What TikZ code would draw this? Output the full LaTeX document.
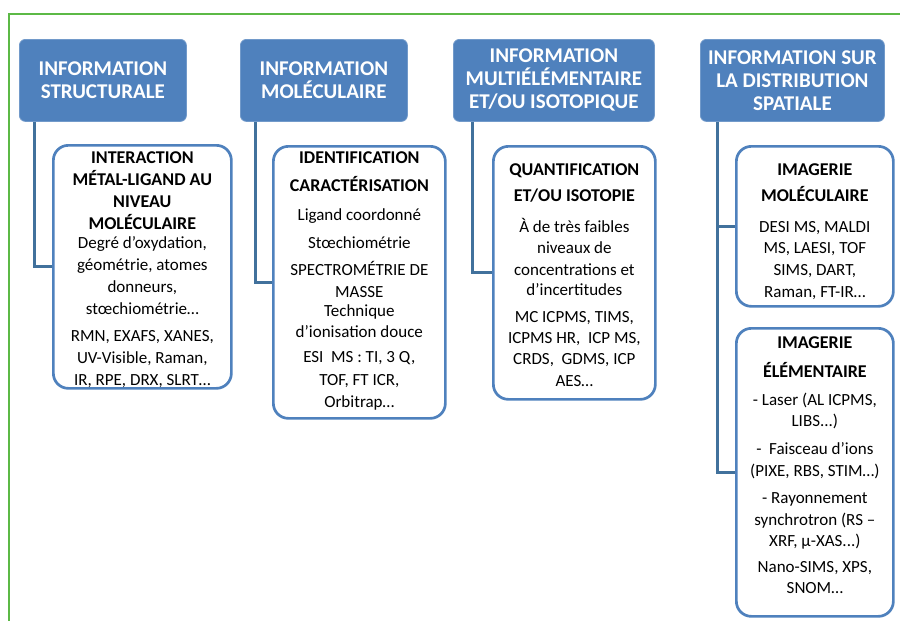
\documentclass[tikz,border=0pt]{standalone}
\usepackage{fontspec}
\setmainfont{Carlito}
\definecolor{hdrblue}{HTML}{4F81BD}
\definecolor{connblue}{HTML}{41719C}
\definecolor{framegreen}{HTML}{5CB946}
\tikzset{
  hdr/.style={draw=hdrblue!80!white, line width=0.8pt, fill=hdrblue, rounded corners=6pt,
    text=white, font=\fontsize{21}{23}\selectfont\bfseries, align=center, inner sep=0pt,
    anchor=north west},
  child/.style={draw=hdrblue, line width=2.7pt, fill=white, rounded corners=15pt,
    inner sep=0pt, anchor=north west},
  txt/.style={font=\fontsize{17}{22}\selectfont, align=center, inner sep=0pt, anchor=north},
  conn/.style={draw=connblue, line width=3pt},
}
\newcommand{\hd}[1]{{\fontsize{18}{22}\selectfont\bfseries #1}}
\begin{document}
\begin{tikzpicture}[x=1pt,y=-1pt]
\useasboundingbox (0,0) rectangle (900,621);
\clip (0,0) rectangle (900,621);
\draw[framegreen, line width=2.2pt] (9,640) -- (9,14) -- (920,14);

% headers
\node[hdr, minimum width=167pt, minimum height=82pt] (h1) at (19,39) {INFORMATION\\STRUCTURALE};
\node[hdr, minimum width=167pt, minimum height=82pt] (h2) at (240,39) {INFORMATION\\MOLÉCULAIRE};
\node[hdr, minimum width=201pt, minimum height=82pt] (h3) at (453,39) {INFORMATION\\MULTIÉLÉMENTAIRE\\ET/OU ISOTOPIQUE};
\node[hdr, minimum width=184pt, minimum height=82pt] (h4) at (700,39) {INFORMATION SUR\\LA DISTRIBUTION\\SPATIALE};

% child boxes
\node[child, minimum width=178pt, minimum height=243pt] (c1) at (52,144) {};
\node[child, minimum width=172pt, minimum height=272pt] (c2) at (272,145) {};
\node[child, minimum width=162pt, minimum height=253pt] (c3) at (492,145) {};
\node[child, minimum width=157pt, minimum height=160pt] (m4) at (735,145) {};
\node[child, minimum width=157pt, minimum height=288pt] (e4) at (735,327) {};

% texts
\node[txt] (t1) at ([yshift=-4pt]c1.north)
 {\strut\hd{INTERACTION}\\\hd{MÉTAL-LIGAND AU}\\\hd{NIVEAU}\\\hd{MOLÉCULAIRE}\\[-3pt]
  Degré d’oxydation,\\géométrie, atomes\\donneurs,\\stœchiométrie…\\[5pt]
  RMN, EXAFS, XANES,\\UV-Visible, Raman,\\IR, RPE, DRX, SLRT…};
\node[txt] (t2) at ([yshift=-3pt]c2.north)
 {\strut\hd{IDENTIFICATION}\\[6pt]\hd{CARACTÉRISATION}\\[7pt]
  Ligand coordonné\\[6pt]Stœchiométrie\\[5pt]
  SPECTROMÉTRIE DE\\MASSE\\[-3pt]Technique\\[-1pt]d’ionisation douce\\[3pt]
  ESI\ \ MS : TI, 3 Q,\\[1pt]TOF, FT ICR,\\Orbitrap…};
\node[txt] (t3) at ([yshift=-15pt]c3.north)
 {\strut\hd{QUANTIFICATION}\\[4pt]\hd{ET/OU ISOTOPIE}\\[9pt]
  À de très faibles\\[-1pt]niveaux de\\concentrations et\\[-2pt]d’incertitudes\\[5pt]
  MC ICPMS, TIMS,\\[-1pt]ICPMS HR,\ \ ICP MS,\\[-1pt]CRDS,\ \ GDMS, ICP\\AES…};
\node[txt] (t4) at ([yshift=-15pt]m4.north)
 {\strut\hd{IMAGERIE}\\[4pt]\hd{MOLÉCULAIRE}\\[9pt]
  DESI MS, MALDI\\[-1pt]MS, LAESI, TOF\\SIMS, DART,\\Raman, FT-IR…};
\node[txt] (t5) at ([yshift=-6pt]e4.north)
 {\strut\hd{IMAGERIE}\\[7pt]\hd{ÉLÉMENTAIRE}\\[6pt]
  - Laser (AL ICPMS,\\[-1pt]LIBS...)\\[6pt]
  -\ \ Faisceau d’ions\\(PIXE,\ RBS,\ STIM…)\\[5pt]
  - Rayonnement\\synchrotron (RS –\\[-1pt]XRF, µ-XAS...)\\[4pt]
  Nano-SIMS, XPS,\\[-1pt]SNOM…};

% connectors
\coordinate (s1) at ([xshift=15pt]h1.south west);
\coordinate (s2) at ([xshift=15pt]h2.south west);
\coordinate (s3) at ([xshift=19pt]h3.south west);
\coordinate (s4) at ([xshift=17pt]h4.south west);
\draw[conn] (s1) |- (c1.west);
\draw[conn] (s2) |- (c2.west);
\draw[conn] (s3) |- (c3.west);
\draw[conn] (s4) |- (e4.west);
\draw[conn] (s4 |- m4.west) -- (m4.west);
\end{tikzpicture}
\end{document}
